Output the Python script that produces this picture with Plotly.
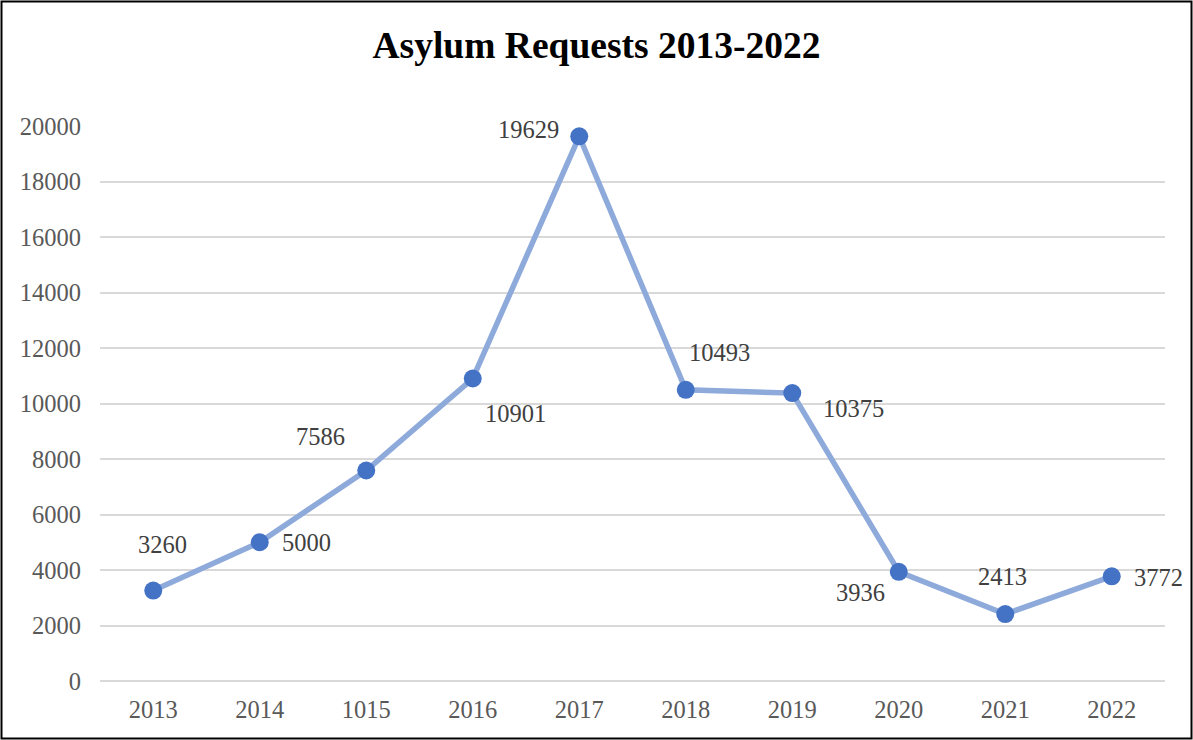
import plotly.graph_objects as go

# ---- data ----
years = ["2013", "2014", "1015", "2016", "2017", "2018", "2019", "2020", "2021", "2022"]
requests = [3260, 5000, 7586, 10901, 19629, 10493, 10375, 3936, 2413, 3772]
title_text = "Asylum Requests 2013-2022"

# ---- label offsets in pixels (style only: dx right, dy down) ----
label_offsets = [(9, -46), (47, 0), (-46, -34), (43, 35), (-51, -7),
                 (34, -37), (61, 15), (-38, 21), (-3, -38), (47, 1)]

W, H = 1193, 740
ML, MR, MT, MB = 100, 28, 126, 59
PW, PH = W - ML - MR, H - MT - MB

FONT = "Liberation Serif, Times New Roman, serif"

fig = go.Figure()
fig.add_trace(go.Scatter(
    x=years, y=requests, mode="lines+markers",
    line=dict(color="#8eaadb", width=5.5),
    marker=dict(color="#4472c4", size=18),
    cliponaxis=False, showlegend=False, hoverinfo="x+y",
))

for i, (v, (dx, dy)) in enumerate(zip(requests, label_offsets)):
    fig.add_annotation(x=i, y=v, xref="x", yref="y", text=str(v),
                       showarrow=False, xshift=dx, yshift=-dy,
                       font=dict(family=FONT, size=24.5, color="#404040"))

# outer border
fig.add_shape(type="rect", xref="paper", yref="paper",
              x0=(1.5 - ML) / PW, x1=(W - 1.5 - ML) / PW,
              y0=(PH + MT - (H - 1.5)) / PH, y1=(PH + MT - 1.5) / PH,
              line=dict(color="#000000", width=2), fillcolor="rgba(0,0,0,0)",
              layer="above")

fig.update_layout(
    width=W, height=H,
    margin=dict(l=ML, r=MR, t=MT, b=MB),
    paper_bgcolor="white", plot_bgcolor="white",
    title=dict(text="<b>" + title_text + "</b>", x=0.5, xanchor="center",
               y=1 - 45 / H, yanchor="middle", yref="container",
               font=dict(family=FONT, size=37.5, color="#000000")),
    xaxis=dict(type="category", categoryorder="array", categoryarray=years,
               range=[-0.5, len(years) - 0.5], autorange=False,
               showgrid=False, showline=False, zeroline=False,
               ticks="", tickfont=dict(family=FONT, size=24.5, color="#595959"),
               ticklabelstandoff=11),
    yaxis=dict(range=[0, 20000], autorange=False, dtick=2000, tickformat="d",
               showgrid=True, gridcolor="#d9d9d9", gridwidth=1.5,
               zeroline=True, zerolinecolor="#d9d9d9", zerolinewidth=1.5,
               showline=False, ticks="",
               tickfont=dict(family=FONT, size=24.5, color="#595959"),
               ticklabelstandoff=18),
)

fig.write_html("out.html")
